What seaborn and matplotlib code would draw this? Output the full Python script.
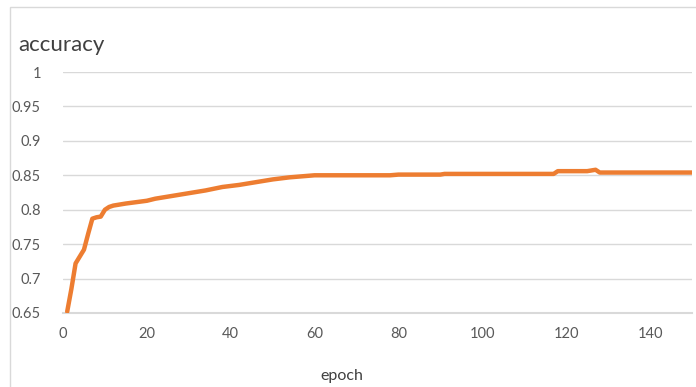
import matplotlib
matplotlib.use("Agg")
import matplotlib.pyplot as plt
import seaborn as sns
import pandas as pd
from matplotlib.patches import Rectangle

epochs = [1, 2, 3, 4, 5, 6, 7, 8, 9, 10, 11, 12, 13, 15, 20, 22, 26, 30, 34, 38,
          42, 46, 50, 54, 58, 60, 70, 78, 80, 90, 91, 103, 104, 117, 118, 125, 126,
          127, 128, 140, 150]
accuracy = [0.652, 0.685, 0.722, 0.732, 0.742, 0.765, 0.787, 0.789, 0.790, 0.800,
            0.804, 0.806, 0.807, 0.809, 0.813, 0.816, 0.820, 0.824, 0.828, 0.833,
            0.836, 0.840, 0.844, 0.847, 0.849, 0.850, 0.850, 0.850, 0.851, 0.851,
            0.852, 0.852, 0.852, 0.852, 0.856, 0.856, 0.857, 0.858, 0.854, 0.854,
            0.854]
xticks = [0, 20, 40, 60, 80, 100, 120, 140]
yticks = [0.65, 0.7, 0.75, 0.8, 0.85, 0.9, 0.95, 1.0]
ytick_labels = ["0.65", "0.7", "0.75", "0.8", "0.85", "0.9", "0.95", "1"]

df = pd.DataFrame({"epoch": epochs, "accuracy": accuracy})

sns.set_theme(style="white")
plt.rcParams["font.family"] = ["Lato", "DejaVu Sans"]

fig = plt.figure(figsize=(6.96, 3.87), dpi=100)
ax = fig.add_axes([63 / 696, (387 - 313) / 387, (692 - 63) / 696, (313 - 72) / 387])

sns.lineplot(data=df, x="epoch", y="accuracy", ax=ax, color="#ED7D31",
             linewidth=3.2, solid_capstyle="round", zorder=3)

ax.set_xlim(0, 150)
ax.set_ylim(0.65, 1.0)
ax.set_xticks(xticks)
ax.set_xticklabels([str(t) for t in xticks])
ax.set_yticks(yticks)
ax.set_yticklabels(ytick_labels)
ax.tick_params(axis="both", length=0, labelsize=10.5, colors="#595959", pad=10)
ax.tick_params(axis="y", pad=16)
ax.yaxis.grid(True, color="#D9D9D9", linewidth=1.0)
ax.xaxis.grid(False)
for s in ["top", "right", "left"]:
    ax.spines[s].set_visible(False)
ax.spines["bottom"].set_color("#D9D9D9")
ax.spines["bottom"].set_linewidth(1.5)
ax.set_xlabel("")
ax.set_ylabel("")

fig.text(18 / 696, 1 - 45 / 387, "accuracy", fontsize=16, color="#404040",
         ha="left", va="center")
fig.text(342 / 696, 1 - 376 / 387, "epoch", fontsize=11.5, color="#404040",
         ha="center", va="center")

# chart area border
fig.add_artist(Rectangle((10 / 696, -0.05), 0.99, 1 - 7 / 387 + 0.05,
                         transform=fig.transFigure, fill=False,
                         edgecolor="#D9D9D9", linewidth=1.0))

fig.savefig("out.png", dpi=100)
